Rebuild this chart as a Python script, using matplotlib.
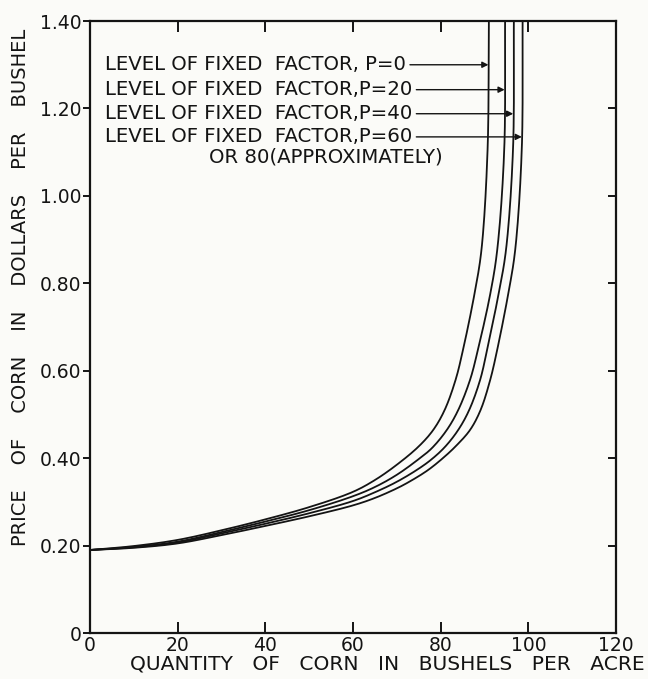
import numpy as np
import matplotlib.pyplot as plt

# Demand curves for corn at different levels of the fixed factor P
qty_p0 = [0, 10, 20, 30, 40, 50, 60, 65, 70, 75, 78.3, 80.9, 83.4, 85.1, 87.7, 89.3, 90.7, 91.0]
price_p0 = [0.190, 0.199, 0.213, 0.235, 0.260, 0.288, 0.323, 0.350, 0.385, 0.427, 0.4645,
            0.510, 0.579, 0.648, 0.775, 0.876, 1.105, 1.40]

qty_p20 = [0, 10, 20, 30, 40, 50, 60, 65, 70, 75, 78, 81.4, 84.0, 86.7, 88.5, 91.3, 92.9, 94.5, 94.7]
price_p20 = [0.190, 0.197, 0.209, 0.231, 0.255, 0.281, 0.313, 0.334, 0.362, 0.398, 0.423, 0.4645,
             0.510, 0.579, 0.648, 0.775, 0.876, 1.105, 1.40]

qty_p40 = [0, 10, 20, 30, 40, 50, 60, 65, 70, 75, 78, 81, 84.0, 86.5, 89.0, 90.6, 93.2, 94.9, 96.5, 96.7]
price_p40 = [0.190, 0.196, 0.207, 0.228, 0.250, 0.274, 0.302, 0.322, 0.346, 0.376, 0.398, 0.426,
             0.4645, 0.510, 0.579, 0.648, 0.775, 0.876, 1.105, 1.40]

qty_p60 = [0, 10, 20, 30, 40, 50, 60, 65, 70, 73, 77, 80.5, 83.5, 86.7, 89.1, 91.3, 92.9, 95.4, 97.0, 98.5, 98.7]
price_p60 = [0.190, 0.195, 0.205, 0.224, 0.245, 0.267, 0.292, 0.309, 0.331, 0.347, 0.372, 0.400,
             0.428, 0.4645, 0.510, 0.579, 0.648, 0.775, 0.876, 1.105, 1.40]

labels = ["LEVEL OF FIXED  FACTOR, P=0",
          "LEVEL OF FIXED  FACTOR,P=20",
          "LEVEL OF FIXED  FACTOR,P=40",
          "LEVEL OF FIXED  FACTOR,P=60"]
label_y = [1.30, 1.243, 1.188, 1.135]

x_ticks = [0, 20, 40, 60, 80, 100, 120]
y_ticks = [0, 0.20, 0.40, 0.60, 0.80, 1.00, 1.20, 1.40]
y_ticklabels = ["0", "0.20", "0.40", "0.60", "0.80", "1.00", "1.20", "1.40"]


def smooth(xs, ys, steps=16, sx=4.38, sy=437.0):
    # centripetal Catmull-Rom through the given points (scaled to screen units)
    pts = np.column_stack([np.asarray(xs) * sx, np.asarray(ys) * sy])
    pts = np.vstack([2 * pts[0] - pts[1], pts, 2 * pts[-1] - pts[-2]])
    out = []
    for i in range(1, len(pts) - 2):
        p0, p1, p2, p3 = pts[i - 1], pts[i], pts[i + 1], pts[i + 2]
        t0 = 0.0
        t1 = t0 + np.linalg.norm(p1 - p0) ** 0.5
        t2 = t1 + np.linalg.norm(p2 - p1) ** 0.5
        t3 = t2 + np.linalg.norm(p3 - p2) ** 0.5
        t = np.linspace(t1, t2, steps, endpoint=False)[:, None]
        a1 = (t1 - t) / (t1 - t0) * p0 + (t - t0) / (t1 - t0) * p1
        a2 = (t2 - t) / (t2 - t1) * p1 + (t - t1) / (t2 - t1) * p2
        a3 = (t3 - t) / (t3 - t2) * p2 + (t - t2) / (t3 - t2) * p3
        b1 = (t2 - t) / (t2 - t0) * a1 + (t - t0) / (t2 - t0) * a2
        b2 = (t3 - t) / (t3 - t1) * a2 + (t - t1) / (t3 - t1) * a3
        out.append((t2 - t) / (t2 - t1) * b1 + (t - t1) / (t2 - t1) * b2)
    out.append(pts[-2][None, :])
    out = np.vstack(out)
    return out[:, 0] / sx, out[:, 1] / sy


ink = "#141414"
paper = "#fbfbf8"
fig = plt.figure(figsize=(6.48, 6.79), dpi=100, facecolor=paper)
ax = fig.add_axes([0.1389, 0.0677, 0.8117, 0.9013])
ax.set_facecolor(paper)

curves = [(qty_p0, price_p0), (qty_p20, price_p20), (qty_p40, price_p40), (qty_p60, price_p60)]
for q, p in curves:
    sq, sp = smooth(q, p)
    ax.plot(sq, sp, color=ink, lw=1.3)

# labels with arrows pointing at each curve
for (q, p), text, yy in zip(curves, labels, label_y):
    target_x = np.interp(yy, p, q)
    ax.annotate(text, xy=(target_x, yy), xytext=(3.4, yy), ha="left", va="center",
                fontsize=14.2, color=ink,
                arrowprops=dict(arrowstyle="-|>", color=ink, lw=1.0, relpos=(1, 0.5),
                                shrinkA=1, shrinkB=0, mutation_scale=9))
ax.text(27.2, 1.089, "OR 80(APPROXIMATELY)", ha="left", va="center", fontsize=14.2, color=ink)

ax.set_xlim(0, 120)
ax.set_ylim(0, 1.40)
ax.set_xticks(x_ticks)
ax.set_xticklabels([str(t) for t in x_ticks])
ax.set_yticks(y_ticks)
ax.set_yticklabels(y_ticklabels)

for s in ax.spines.values():
    s.set_linewidth(1.6)
    s.set_color(ink)

ax.tick_params(axis="x", direction="in", length=8, width=1.4, labelsize=13.5, pad=2,
               top=True, colors=ink)
ax.tick_params(axis="y", direction="out", length=5, width=1.4, labelsize=13.5, pad=1,
               right=True, colors=ink)
# right-hand ticks point inward
for tick in ax.yaxis.get_major_ticks():
    tick.tick2line.set_marker(0)
    tick.tick2line.set_markersize(6)

fig.text(0.031, 0.577, "PRICE    OF    CORN    IN    DOLLARS    PER    BUSHEL", rotation=90,
         ha="center", va="center", fontsize=14, color=ink)
fig.text(0.598, 0.022, "QUANTITY   OF   CORN   IN   BUSHELS   PER   ACRE",
         ha="center", va="center", fontsize=14.6, color=ink)

fig.savefig("out.png", dpi=100, facecolor=fig.get_facecolor())
